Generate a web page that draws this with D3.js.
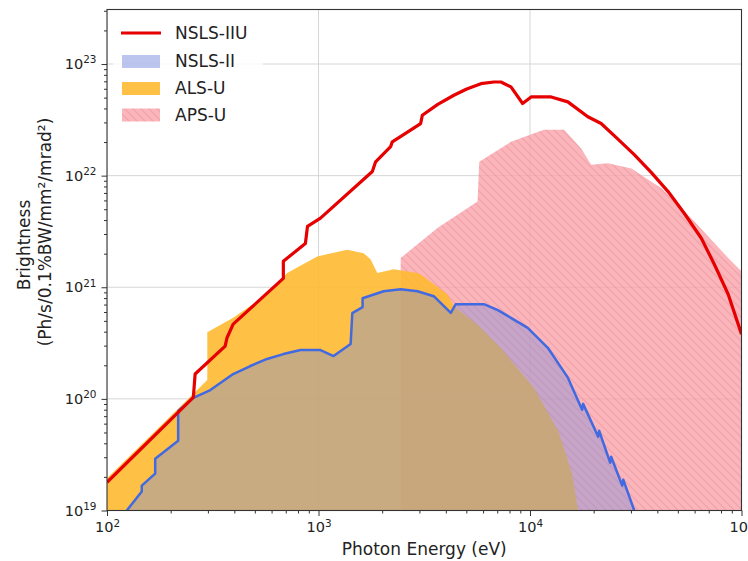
<!DOCTYPE html>
<html>
<head>
<meta charset="utf-8">
<script src="https://cdn.jsdelivr.net/npm/d3@7"></script>
<style>
  body { margin: 0; background: #fff; }
  text { font-family: "DejaVu Sans", sans-serif; fill: #222; }
</style>
</head>
<body>
<svg id="paper"></svg>
<script>
// brightness curves: [photon energy (eV), brightness]
const nslsIIU = [
    [100, 1.79e19], [256, 1.03e20], [261, 1.67e20], [362, 2.97e20], [369, 3.51e20],
    [395, 4.68e20], [682, 1.20e21], [682, 1.71e21], [867, 2.47e21], [887, 3.51e21],
    [1022, 4.16e21], [1797, 1.09e22], [1862, 1.33e22], [2193, 1.82e22], [2233, 2.01e22],
    [3041, 2.93e22], [3097, 3.48e22], [3664, 4.35e22], [4365, 5.25e22], [5023, 5.98e22],
    [5860, 6.67e22], [6745, 6.90e22], [7290, 6.90e22], [8128, 6.24e22], [9230, 4.43e22],
    [10120, 5.07e22], [12590, 5.07e22], [15100, 4.58e22], [18770, 3.37e22], [21690, 2.93e22],
    [25820, 2.16e22], [31110, 1.54e22], [37410, 1.07e22], [44970, 7.20e21], [53700, 4.58e21],
    [64570, 2.75e21], [74470, 1.60e21], [86500, 8.66e20], [100000, 3.80e20]
];

const nslsII = [
    [124, 1e19], [146, 1.48e19], [146, 1.67e19], [169, 2.14e19], [169, 2.91e19],
    [217, 4.22e19], [217, 7.81e19], [256, 1.02e20], [308, 1.20e20], [395, 1.67e20],
    [476, 1.97e20], [571, 2.28e20], [682, 2.52e20], [822, 2.74e20], [1022, 2.74e20],
    [1178, 2.42e20], [1419, 3.10e20], [1445, 5.86e20], [1616, 6.63e20], [1616, 7.98e20],
    [2032, 9.21e20], [2447, 9.60e20], [2938, 9.21e20], [3508, 8.32e20], [4223, 5.90e20],
    [4456, 7.05e20], [6053, 7.05e20], [7050, 6.24e20], [8128, 5.32e20], [9750, 4.33e20],
    [12140, 2.87e20], [15100, 1.55e20], [17640, 7.98e19], [17830, 9.02e19], [21010, 4.58e19],
    [21230, 5.18e19], [23930, 2.68e19], [24200, 3.03e19], [27300, 1.67e19], [27600, 1.89e19],
    [31110, 1e19]
];

const alsU = [
    [100, 1.95e19], [256, 1.11e20], [298, 1.48e20], [298, 3.96e20], [395, 5.32e20],
    [571, 8.66e20], [711, 1.34e21], [986, 1.89e21], [1368, 2.17e21], [1634, 2.02e21],
    [1762, 1.78e21], [1897, 1.34e21], [2267, 1.45e21], [2938, 1.34e21], [3041, 1.31e21],
    [4074, 8.61e20], [4365, 6.76e20], [5670, 4.58e20], [7290, 2.85e20], [10440, 1.25e20],
    [13590, 5.18e19], [15810, 2.14e19], [16880, 1e19]
];

const apsU = [
    [2447, 1e19], [2447, 1.83e21], [3652, 3.39e21], [5650, 5.86e21], [5754, 1.33e22],
    [8128, 2.01e22], [11640, 2.58e22], [14490, 2.58e22], [17460, 1.75e22], [19460, 1.25e22],
    [23360, 1.29e22], [30130, 1.16e22], [41790, 7.71e21], [59840, 3.88e21], [86500, 1.83e21],
    [100000, 1.39e21]
];

const legendNames = ["NSLS-IIU", "NSLS-II", "ALS-U", "APS-U"];
const xMajor = [1e2, 1e3, 1e4, 1e5];
const yMajor = [1e19, 1e20, 1e21, 1e22, 1e23];

// set the dimensions of the diagram
var width = 748, height = 561,
    plot = {left: 107, right: 741.5, top: 9.5, bottom: 510.5};

var svg = d3.select("#paper")
    .attr("width", width)
    .attr("height", height);

var x = d3.scaleLog()
    .domain([1e2, 1e5])
    .range([plot.left, plot.right]);

// top of the frame sits about half a decade above 1e23
var y = d3.scaleLog()
    .domain([1e19, 3.08e23])
    .range([plot.bottom, plot.top]);

var defs = svg.append("defs");
defs.append("clipPath").attr("id", "clip")
    .append("rect")
    .attr("x", plot.left).attr("y", plot.top)
    .attr("width", plot.right - plot.left)
    .attr("height", plot.bottom - plot.top);

// hatch for APS-U
var hatch = defs.append("pattern")
    .attr("id", "hatch")
    .attr("patternUnits", "userSpaceOnUse")
    .attr("width", 8).attr("height", 8);
hatch.append("rect").attr("width", 8).attr("height", 8).attr("fill", "rgb(249,164,170)");
hatch.append("path")
    .attr("d", "M0,0L8,8M-4,4L4,12M4,-4L12,4")
    .attr("stroke", "rgb(240,140,150)")
    .attr("stroke-width", 1.3);

var g = svg.append("g").attr("clip-path", "url(#clip)");

// grid
g.selectAll(".gx").data(xMajor).enter().append("line")
    .attr("x1", d => x(d)).attr("x2", d => x(d))
    .attr("y1", plot.top).attr("y2", plot.bottom)
    .attr("stroke", "#d6d6d6").attr("stroke-width", 1);
g.selectAll(".gy").data(yMajor).enter().append("line")
    .attr("y1", d => y(d)).attr("y2", d => y(d))
    .attr("x1", plot.left).attr("x2", plot.right)
    .attr("stroke", "#d6d6d6").attr("stroke-width", 1);

var area = d3.area()
    .x(d => x(d[0]))
    .y0(y(1e19))
    .y1(d => y(d[1]));

var line = d3.line()
    .x(d => x(d[0]))
    .y(d => y(d[1]));

g.append("path").datum(apsU)
    .attr("d", area)
    .attr("fill", "url(#hatch)")
    .attr("opacity", 0.8);

g.append("path").datum(alsU)
    .attr("d", area)
    .attr("fill", "rgb(255,185,50)")
    .attr("opacity", 0.9);

g.append("path").datum(nslsII)
    .attr("d", area)
    .attr("fill", "rgb(120,140,220)")
    .attr("opacity", 0.4);

g.append("path").datum(nslsII)
    .attr("d", line)
    .attr("fill", "none")
    .attr("stroke", "rgb(65,105,225)")
    .attr("stroke-width", 2.5)
    .attr("stroke-linejoin", "round");

g.append("path").datum(nslsIIU)
    .attr("d", line)
    .attr("fill", "none")
    .attr("stroke", "#e60000")
    .attr("stroke-width", 3.2)
    .attr("stroke-linejoin", "round");

// minor tick values for the log axes
function minors(lo, hi) {
    let out = [];
    for (let p = lo; p < hi; p++)
        for (let k = 2; k < 10; k++) out.push(k * Math.pow(10, p));
    return out;
}

function powLabel(sel) {
    sel.selectAll(".tick text").each(function (d) {
        let t = d3.select(this).text(null);
        t.append("tspan").text("10");
        t.append("tspan")
            .attr("dy", "-0.55em")
            .attr("font-size", "0.72em")
            .text(Math.round(Math.log10(d)));
    });
}

var xAxis = svg.append("g")
    .attr("transform", "translate(0," + plot.bottom + ")")
    .call(d3.axisBottom(x).tickValues(xMajor).tickSize(5.5).tickPadding(6).tickSizeOuter(0))
    .call(powLabel);
svg.append("g")
    .attr("transform", "translate(0," + plot.bottom + ")")
    .call(d3.axisBottom(x).tickValues(minors(2, 5)).tickSize(3).tickFormat("").tickSizeOuter(0));

var yAxis = svg.append("g")
    .attr("transform", "translate(" + plot.left + ",0)")
    .call(d3.axisLeft(y).tickValues(yMajor).tickSize(5.5).tickPadding(5).tickSizeOuter(0))
    .call(powLabel);
svg.append("g")
    .attr("transform", "translate(" + plot.left + ",0)")
    .call(d3.axisLeft(y).tickValues(minors(19, 24).filter(v => v < 3.08e23)).tickSize(3).tickFormat("").tickSizeOuter(0));

svg.selectAll(".tick text")
    .attr("font-size", "14.5px")
    .attr("font-family", "DejaVu Sans")
    .attr("fill", "#222");
svg.selectAll(".domain").remove();
svg.selectAll(".tick line").attr("stroke", "#333");

// frame
svg.append("rect")
    .attr("x", plot.left).attr("y", plot.top)
    .attr("width", plot.right - plot.left)
    .attr("height", plot.bottom - plot.top)
    .attr("fill", "none")
    .attr("stroke", "#333")
    .attr("stroke-width", 1.1);

// axis labels
svg.append("text")
    .attr("x", (plot.left + plot.right) / 2)
    .attr("y", 555)
    .attr("text-anchor", "middle")
    .attr("font-size", "17px")
    .text("Photon Energy (eV)");

svg.append("text")
    .attr("transform", "translate(30,245) rotate(-90)")
    .attr("text-anchor", "middle")
    .attr("font-size", "17px")
    .text("Brightness");
svg.append("text")
    .attr("transform", "translate(51,232) rotate(-90)")
    .attr("text-anchor", "middle")
    .attr("font-size", "17px")
    .text("(Ph/s/0.1%BW/mm²/mrad²)");

// legend
var legend = svg.append("g");
legend.append("rect")
    .attr("x", 113).attr("y", 17)
    .attr("width", 150).attr("height", 112)
    .attr("fill", "#fff").attr("opacity", 0.8);

var rowY = [33, 61.5, 88.5, 115];
legend.append("line")
    .attr("x1", 121).attr("x2", 161)
    .attr("y1", rowY[0]).attr("y2", rowY[0])
    .attr("stroke", "#e60000").attr("stroke-width", 3.2);
legend.append("rect")
    .attr("x", 122).attr("y", rowY[1] - 6.5).attr("width", 38).attr("height", 13)
    .attr("fill", "rgb(120,140,220)").attr("opacity", 0.5);
legend.append("rect")
    .attr("x", 122).attr("y", rowY[2] - 6.5).attr("width", 38).attr("height", 13)
    .attr("fill", "rgb(255,185,50)").attr("opacity", 0.9);
legend.append("rect")
    .attr("x", 122).attr("y", rowY[3] - 6.5).attr("width", 38).attr("height", 13)
    .attr("fill", "url(#hatch)").attr("opacity", 0.8);

legend.selectAll(".lt").data(legendNames).enter().append("text")
    .attr("x", 175)
    .attr("y", (d, i) => rowY[i])
    .attr("dy", "0.35em")
    .attr("font-size", "17px")
    .text(d => d);
</script>
</body>
</html>
